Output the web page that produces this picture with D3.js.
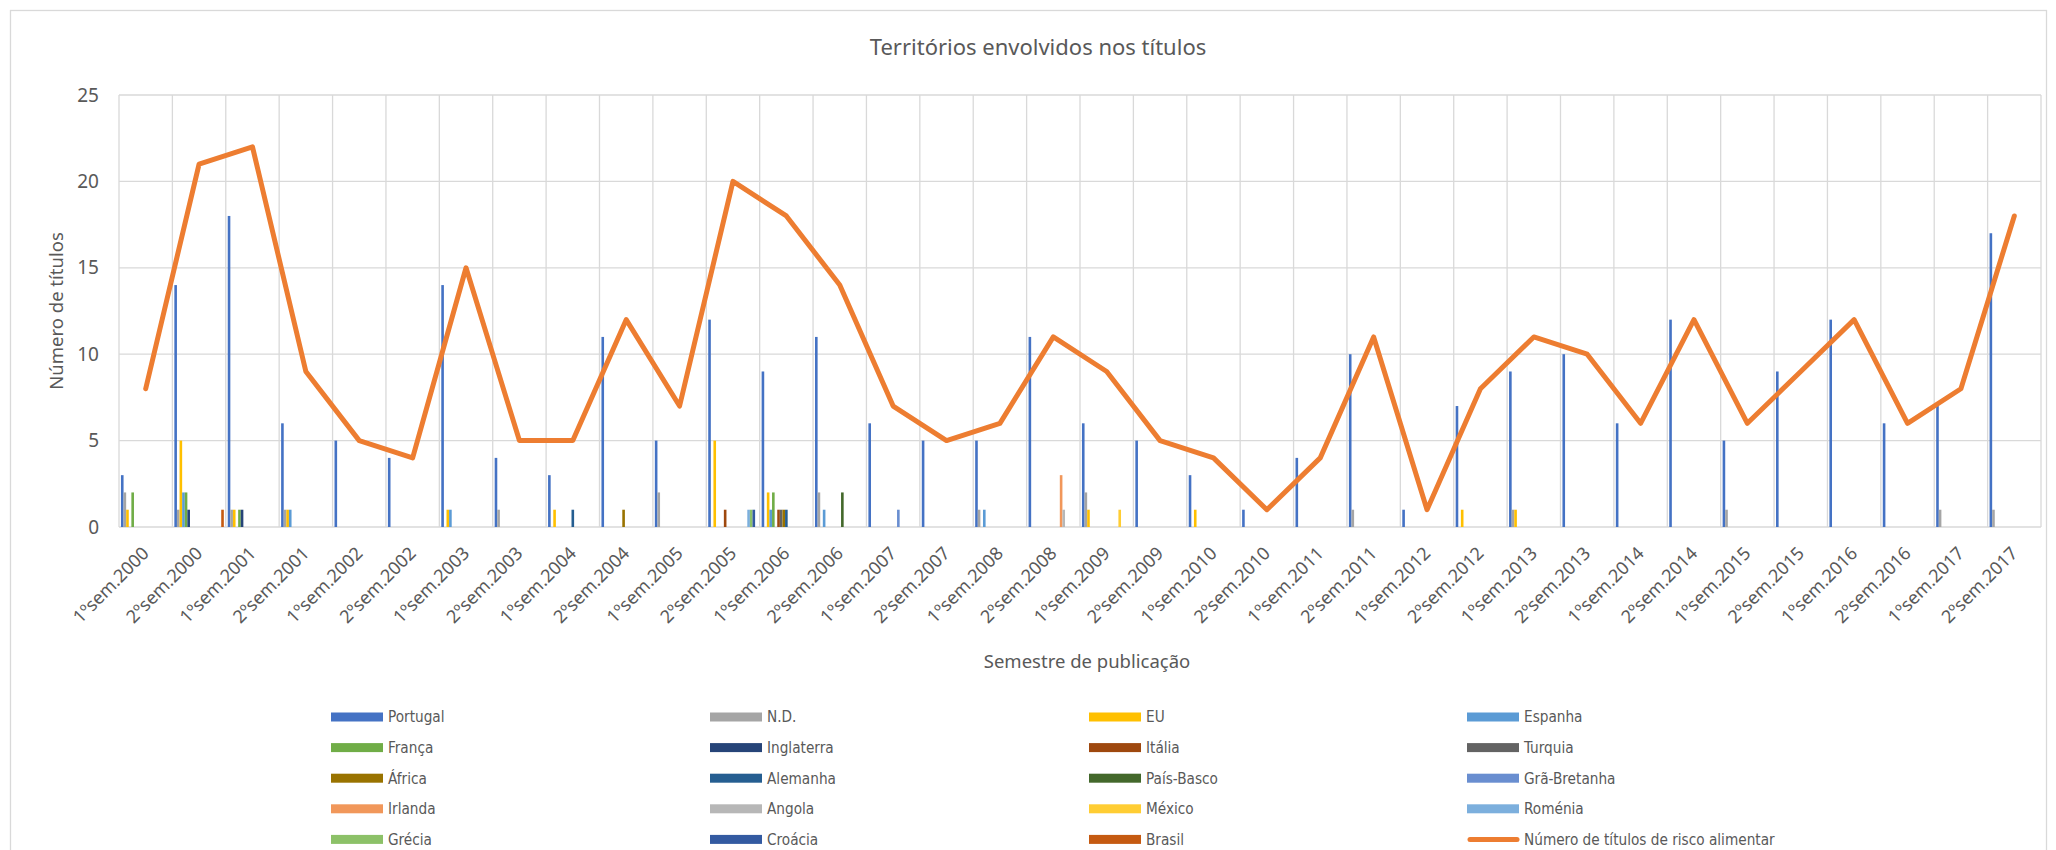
<!DOCTYPE html>
<html>
<head>
<meta charset="utf-8">
<script src="https://cdn.jsdelivr.net/npm/d3@7"></script>
<style>
body { margin: 0; background: #fff; }
svg text { font-family: "Noto Sans", "Open Sans", sans-serif; fill: #595959; }
.legend text { font-family: "DejaVu Sans Condensed", "Liberation Sans Narrow", sans-serif; }
</style>
</head>
<body>
<svg id="chart" width="2056" height="850"></svg>
<script>
var categories = ["1ºsem.2000","2ºsem.2000","1ºsem.2001","2ºsem.2001","1ºsem.2002","2ºsem.2002",
    "1ºsem.2003","2ºsem.2003","1ºsem.2004","2ºsem.2004","1ºsem.2005","2ºsem.2005",
    "1ºsem.2006","2ºsem.2006","1ºsem.2007","2ºsem.2007","1ºsem.2008","2ºsem.2008",
    "1ºsem.2009","2ºsem.2009","1ºsem.2010","2ºsem.2010","1ºsem.2011","2ºsem.2011",
    "1ºsem.2012","2ºsem.2012","1ºsem.2013","2ºsem.2013","1ºsem.2014","2ºsem.2014",
    "1ºsem.2015","2ºsem.2015","1ºsem.2016","2ºsem.2016","1ºsem.2017","2ºsem.2017"];

// total of titles per semester (line)
var totalTitulos = [8,21,22,9,5,4,15,5,5,12,7,20,18,14,7,5,6,11,9,5,4,1,4,11,1,8,11,10,6,12,6,9,12,6,8,18];

// territories (bars)
var portugal    = [3,14,18,6,5,4,14,4,3,11,5,12,9,11,6,5,5,11,6,5,3,1,4,10,1,7,9,10,6,12,5,9,12,6,7,17];
var nd          = [2,1,1,1,0,0,0,1,0,0,2,0,0,2,0,0,1,0,2,0,0,0,0,1,0,0,1,0,0,0,1,0,0,0,1,1];
var eu          = [1,5,1,1,0,0,1,0,1,0,0,5,2,0,0,0,0,0,1,0,1,0,0,0,0,1,1,0,0,0,0,0,0,0,0,0];
var espanha     = [0,2,0,1,0,0,1,0,0,0,0,0,1,1,0,0,1,0,0,0,0,0,0,0,0,0,0,0,0,0,0,0,0,0,0,0];
var franca      = [2,2,1,0,0,0,0,0,0,0,0,0,2,0,0,0,0,0,0,0,0,0,0,0,0,0,0,0,0,0,0,0,0,0,0,0];
var inglaterra  = [0,1,1,0,0,0,0,0,0,0,0,0,0,0,0,0,0,0,0,0,0,0,0,0,0,0,0,0,0,0,0,0,0,0,0,0];
var italia      = [0,0,0,0,0,0,0,0,0,0,0,1,1,0,0,0,0,0,0,0,0,0,0,0,0,0,0,0,0,0,0,0,0,0,0,0];
var turquia     = [0,0,0,0,0,0,0,0,0,0,0,0,1,0,0,0,0,0,0,0,0,0,0,0,0,0,0,0,0,0,0,0,0,0,0,0];
var africa      = [0,0,0,0,0,0,0,0,0,1,0,0,1,0,0,0,0,0,0,0,0,0,0,0,0,0,0,0,0,0,0,0,0,0,0,0];
var alemanha    = [0,0,0,0,0,0,0,0,1,0,0,0,1,0,0,0,0,0,0,0,0,0,0,0,0,0,0,0,0,0,0,0,0,0,0,0];
var paisBasco   = [0,0,0,0,0,0,0,0,0,0,0,0,0,2,0,0,0,0,0,0,0,0,0,0,0,0,0,0,0,0,0,0,0,0,0,0];
var graBretanha = [0,0,0,0,0,0,0,0,0,0,0,0,0,0,1,0,0,0,0,0,0,0,0,0,0,0,0,0,0,0,0,0,0,0,0,0];
var irlanda     = [0,0,0,0,0,0,0,0,0,0,0,0,0,0,0,0,0,3,0,0,0,0,0,0,0,0,0,0,0,0,0,0,0,0,0,0];
var angola      = [0,0,0,0,0,0,0,0,0,0,0,0,0,0,0,0,0,1,0,0,0,0,0,0,0,0,0,0,0,0,0,0,0,0,0,0];
var mexico      = [0,0,0,0,0,0,0,0,0,0,0,0,0,0,0,0,0,0,1,0,0,0,0,0,0,0,0,0,0,0,0,0,0,0,0,0];
var romenia     = [0,0,0,0,0,0,0,0,0,0,0,1,0,0,0,0,0,0,0,0,0,0,0,0,0,0,0,0,0,0,0,0,0,0,0,0];
var grecia      = [0,0,0,0,0,0,0,0,0,0,0,1,0,0,0,0,0,0,0,0,0,0,0,0,0,0,0,0,0,0,0,0,0,0,0,0];
var croacia     = [0,0,0,0,0,0,0,0,0,0,0,1,0,0,0,0,0,0,0,0,0,0,0,0,0,0,0,0,0,0,0,0,0,0,0,0];
var brasil      = [0,1,0,0,0,0,0,0,0,0,0,0,0,0,0,0,0,0,0,0,0,0,0,0,0,0,0,0,0,0,0,0,0,0,0,0];

var seriesNames = ["Portugal","N.D.","EU","Espanha","França","Inglaterra","Itália","Turquia","África",
    "Alemanha","País-Basco","Grã-Bretanha","Irlanda","Angola","México","Roménia","Grécia","Croácia","Brasil"];
var seriesValues = [portugal, nd, eu, espanha, franca, inglaterra, italia, turquia, africa,
    alemanha, paisBasco, graBretanha, irlanda, angola, mexico, romenia, grecia, croacia, brasil];
var seriesColors = ["#4472C4","#A5A5A5","#FFC000","#5B9BD5","#70AD47","#264478","#9E480E","#636363","#997300",
    "#255E91","#43682B","#698ED0","#F1975A","#B7B7B7","#FFCD33","#7CAFDD","#8CC168","#335AA1","#C55A11"];
var lineName = "Número de títulos de risco alimentar";
var lineColor = "#ED7D31";
var yTicks = [0,5,10,15,20,25];

var svg = d3.select("#chart");
var plotLeft = 119, plotRight = 2041, plotTop = 95, plotBottom = 527;

// chart border
svg.append("rect")
    .attr("x", 10.5).attr("y", 10.5)
    .attr("width", 2036).attr("height", 860)
    .attr("fill", "#fff").attr("stroke", "#D9D9D9").attr("stroke-width", 1.3);

var x0 = d3.scaleBand().domain(categories).range([plotLeft, plotRight]).paddingInner(0).paddingOuter(0);
var x1 = d3.scaleBand().domain(seriesNames).range([0, x0.bandwidth()]).paddingInner(0).paddingOuter(0.75);
var y = d3.scaleLinear().domain([0, 25]).range([plotBottom, plotTop]);

// gridlines
svg.append("g").selectAll("line").data(yTicks).enter().append("line")
    .attr("x1", plotLeft).attr("x2", plotRight)
    .attr("y1", function(d){ return y(d); }).attr("y2", function(d){ return y(d); })
    .attr("stroke", "#D9D9D9").attr("stroke-width", 1.3);

var vlines = categories.map(function(c){ return x0(c); });
vlines.push(plotRight);
svg.append("g").selectAll("line").data(vlines).enter().append("line")
    .attr("x1", function(d){ return d; }).attr("x2", function(d){ return d; })
    .attr("y1", plotTop).attr("y2", plotBottom)
    .attr("stroke", "#D9D9D9").attr("stroke-width", 1.3);

// y axis labels
var yAxis = svg.append("g")
    .attr("transform", "translate(" + (plotLeft - 20) + ",0)")
    .call(d3.axisLeft(y).tickValues(yTicks).tickSize(0).tickPadding(0));
yAxis.select(".domain").remove();
yAxis.selectAll("text").style("font-size", "19px").style("fill", "#595959")
    .style("font-family", "\"Noto Sans\", sans-serif");

// bars
var groups = svg.append("g").selectAll("g").data(categories).enter().append("g")
    .attr("transform", function(c){ return "translate(" + x0(c) + ",0)"; });

groups.selectAll("rect")
    .data(function(c, i){
        return seriesNames.map(function(s, j){ return {name: s, value: seriesValues[j][i], color: seriesColors[j]}; });
    })
    .enter().append("rect")
    .attr("x", function(d){ return x1(d.name); })
    .attr("width", x1.bandwidth())
    .attr("y", function(d){ return y(d.value); })
    .attr("height", function(d){ return y(0) - y(d.value); })
    .attr("fill", function(d){ return d.color; });

// line
var line = d3.line()
    .x(function(d, i){ return x0(categories[i]) + x0.bandwidth() / 2; })
    .y(function(d){ return y(d); });

svg.append("path")
    .datum(totalTitulos)
    .attr("d", line)
    .attr("fill", "none")
    .attr("stroke", lineColor)
    .attr("stroke-width", 5)
    .attr("stroke-linejoin", "round")
    .attr("stroke-linecap", "round");

// x axis labels
svg.append("g").selectAll("text").data(categories).enter().append("text")
    .attr("transform", function(c){
        return "translate(" + (x0(c) + x0.bandwidth() / 2) + "," + (plotBottom + 23) + ") rotate(-45)";
    })
    .attr("text-anchor", "end")
    .attr("dy", "0.35em")
    .style("font-size", "18px")
    .text(function(c){ return c; });

// titles
svg.append("text")
    .attr("x", 1038).attr("y", 55)
    .attr("text-anchor", "middle")
    .style("font-size", "22px")
    .text("Territórios envolvidos nos títulos");

svg.append("text")
    .attr("x", 1087).attr("y", 668)
    .attr("text-anchor", "middle")
    .style("font-size", "18.5px")
    .text("Semestre de publicação");

svg.append("text")
    .attr("transform", "translate(63," + ((plotTop + plotBottom) / 2) + ") rotate(-90)")
    .attr("text-anchor", "middle")
    .style("font-size", "18.5px")
    .text("Número de títulos");

// legend
var legendItems = seriesNames.map(function(s, j){ return {name: s, color: seriesColors[j], type: "bar"}; });
legendItems.push({name: lineName, color: lineColor, type: "line"});
var colX = [331, 710, 1089, 1467];

var legend = svg.append("g").attr("class", "legend").selectAll("g").data(legendItems).enter().append("g")
    .attr("transform", function(d, i){
        return "translate(" + colX[i % 4] + "," + (717 + 30.6 * Math.floor(i / 4)) + ")";
    });

legend.filter(function(d){ return d.type == "bar"; }).append("rect")
    .attr("x", 0).attr("y", -4.5).attr("width", 52).attr("height", 9)
    .attr("fill", function(d){ return d.color; });

legend.filter(function(d){ return d.type == "line"; }).append("line")
    .attr("x1", 3).attr("x2", 50).attr("y1", 0).attr("y2", 0)
    .attr("stroke", function(d){ return d.color; })
    .attr("stroke-width", 5).attr("stroke-linecap", "round");

legend.append("text")
    .attr("x", 57).attr("y", 0).attr("dy", "0.35em")
    .style("font-size", "15.2px")
    .text(function(d){ return d.name; });
</script>
</body>
</html>
